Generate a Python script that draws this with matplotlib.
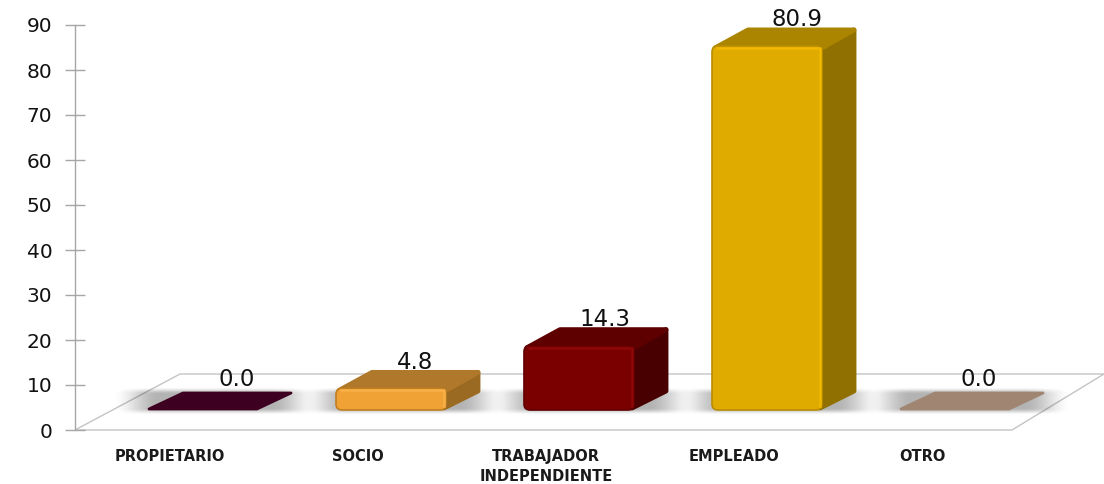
import matplotlib
matplotlib.use("Agg")
import matplotlib.pyplot as plt
import numpy as np
from matplotlib.patches import FancyBboxPatch, Polygon

# Data
categories = ["PROPIETARIO", "SOCIO", "TRABAJADOR\nINDEPENDIENTE", "EMPLEADO", "OTRO"]
values = [0.0, 4.8, 14.3, 80.9, 0.0]
y_ticks = [0, 10, 20, 30, 40, 50, 60, 70, 80, 90]

front_colors = ["#3d0020", "#f0a234", "#7a0000", "#e0ab00", "#a08672"]
top_colors = ["#3d0020", "#b0782a", "#5e0000", "#ab8400", "#a08672"]
side_colors = ["#3d0020", "#9a6a22", "#480000", "#8f7000", "#a08672"]
edge_colors = ["#3d0020", "#c07f20", "#600000", "#b98c00", "#a08672"]
shine_colors = ["#3d0020", "#f8b048", "#8e0808", "#f0b800", "#a08672"]
label_dx = [34, 24, 26, 30, 24]  # px from bar centre to its value label

# Layout, in pixels of the 1104x484 picture
W, H = 1104, 484
AX_LEFT = 75
Y0_PX, Y90_PX = 430, 25
FIRST_PX = 203
STEP_PX = 188
SX = STEP_PX          # px per category
SY = (Y0_PX - Y90_PX) / 90  # px per value unit

BAR_W = 110 / SX
DEPTH_X = 34 / SX
DEPTH_Y = 18 / SY
BASE = 20 / SY        # bars stand a bit behind the front edge of the floor


def soft_band(width, height, ramp_x, ramp_y, peak):
    """Black image whose alpha fades out towards the edges, for the floor shadows."""
    xs = np.arange(width) + 0.5
    ys = np.arange(height) + 0.5
    fx = np.clip(np.minimum(xs, width - xs) / ramp_x, 0, 1)
    fy = np.clip(np.minimum(ys, height - ys) / ramp_y, 0, 1)
    fx = fx * fx * (3 - 2 * fx)
    fy = fy * fy * (3 - 2 * fy)
    img = np.zeros((height, width, 4))
    img[..., 3] = peak * np.outer(fy, fx)
    return img


fig = plt.figure(figsize=(W / 100, H / 100), dpi=100, facecolor="white")
ax = fig.add_axes([AX_LEFT / W, (H - Y0_PX) / H, (W - AX_LEFT) / W, (Y0_PX - Y90_PX) / H])
x_lim = (-(FIRST_PX - AX_LEFT) / SX, (W - FIRST_PX) / SX)

for s in ["top", "right", "bottom"]:
    ax.spines[s].set_visible(False)
ax.spines["left"].set_color("#a6a6a6")
ax.spines["left"].set_linewidth(1)

# floor of the 3D chart
floor_y = 56 / SY
floor = Polygon([(x_lim[0], 0), (x_lim[0] + 937 / SX, 0), (x_lim[1], floor_y), (x_lim[0] + 105 / SX, floor_y)],
                closed=True, fc="white", ec="#c4c4c4", lw=1, clip_on=False, zorder=1)
ax.add_patch(floor)

for i, v in enumerate(values):
    left = i - BAR_W / 2
    right = i + BAR_W / 2
    bottom = BASE
    top = BASE + v

    # soft shadow on the floor
    sh_w, sh_h = 207, 28
    ax.imshow(soft_band(sh_w, sh_h, 48, 7, 0.3), aspect="auto", zorder=2, interpolation="bilinear",
              extent=(left - 36 / SX, left + (sh_w - 36) / SX, bottom - 5 / SY, bottom + (sh_h - 5) / SY))

    if v == 0:
        # zero values: flat parallelogram
        ax.add_patch(Polygon([(left + 1 / SX, bottom + 1 / SY), (right - 1 / SX, bottom + 1 / SY),
                              (right + DEPTH_X - 1 / SX, bottom + DEPTH_Y - 1 / SY),
                              (left + DEPTH_X + 1 / SX, bottom + DEPTH_Y - 1 / SY)],
                             fc=front_colors[i], ec=front_colors[i], lw=2, joinstyle="round", zorder=3))
        ax.text(i + label_dx[i] / SX, top + 30 / SY, f"{v:.1f}", ha="center", va="center",
                fontsize=16.5, color="#111111", zorder=6)
        continue

    # side and top faces
    ax.add_patch(Polygon([(right - 2 / SX, bottom + 2 / SY), (right + DEPTH_X - 2 / SX, bottom + DEPTH_Y + 1 / SY),
                          (right + DEPTH_X - 2 / SX, top + DEPTH_Y - 2 / SY), (right - 2 / SX, top - 2 / SY)],
                         fc=side_colors[i], ec=side_colors[i], lw=3.5, joinstyle="round", zorder=3))
    ax.add_patch(Polygon([(left + 3 / SX, top - 2 / SY), (right, top - 2 / SY),
                          (right + DEPTH_X - 2 / SX, top + DEPTH_Y - 2 / SY),
                          (left + DEPTH_X + 2 / SX, top + DEPTH_Y - 2 / SY)],
                         fc=top_colors[i], ec=top_colors[i], lw=3.5, joinstyle="round", zorder=3))
    # front face
    ax.add_patch(FancyBboxPatch((left, bottom), BAR_W, v,
                                boxstyle=f"round,pad=0,rounding_size={6 / SX}",
                                mutation_aspect=SX / SY, fc=front_colors[i],
                                ec=edge_colors[i], lw=1.2, zorder=4))
    # highlight along top and right edges of the front
    ax.plot([left + 5 / SX, right - 2 / SX, right - 2 / SX],
            [top - 2 / SY, top - 2 / SY, bottom + 4 / SY],
            color=shine_colors[i], lw=1.8, solid_joinstyle="round", zorder=5)

    ax.text(i + label_dx[i] / SX, top + 26 / SY, f"{v:.1f}", ha="center", va="center",
            fontsize=16.5, color="#111111", zorder=6, clip_on=False)

ax.set_xlim(*x_lim)
ax.set_ylim(0, 90)

ax.set_yticks(y_ticks)
ax.tick_params(axis="y", direction="inout", length=14.5, width=1, color="#a6a6a6",
               labelsize=14.5, labelcolor="#111111", pad=9)

ax.set_xticks([i - 0.175 for i in range(len(categories))])
ax.set_xticklabels(categories, fontsize=10.5, fontweight="bold", color="#1a1a1a",
                   linespacing=1.4, family="DejaVu Sans")
ax.tick_params(axis="x", length=0, pad=14)

fig.savefig("out.png", dpi=100, facecolor="white")
